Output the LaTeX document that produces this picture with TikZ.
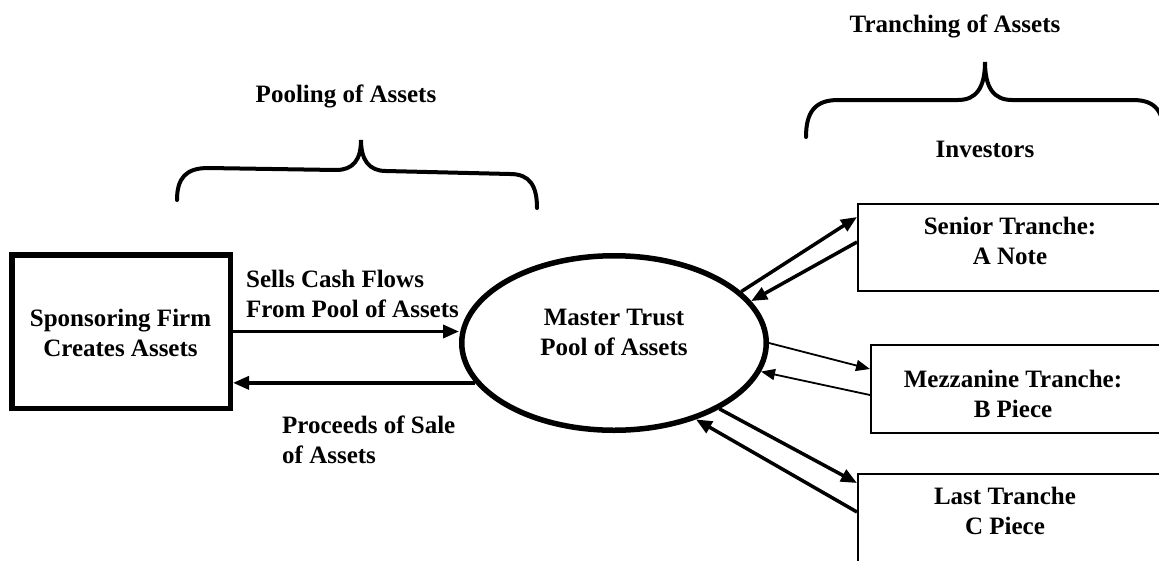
\documentclass[tikz,border=0pt]{standalone}
\usepackage{fontspec}
\setmainfont{Liberation Serif}
\usetikzlibrary{shapes.geometric,arrows.meta,calc}
\newcommand{\twoline}[3][c]{\begin{tabular}[t]{@{}#1@{}}#2\\#3\end{tabular}}
\begin{document}
\begin{tikzpicture}[x=1pt,y=-1pt,
  lbl/.style={font=\fontsize{25}{30}\selectfont\bfseries, inner sep=0pt, anchor=base},
  thickbox/.style={draw, line width=5.5pt, inner sep=0pt},
  trbox/.style={draw, line width=2pt, inner sep=0pt},
  brace/.style={line width=4pt, line cap=round},
  thickarr/.style={line width=3.5pt, -{Triangle[length=16pt,width=13pt]}},
  thinarr/.style={line width=1.8pt, -{Triangle[length=14pt,width=11pt]}}]
\useasboundingbox (0,0) rectangle (1159,560);
\clip (0,0) rectangle (1159,560);

% main shapes
\node[thickbox, minimum width=218.5pt, minimum height=153.5pt] (sf) at (121,331.5) {};
\node[thickbox, ellipse, minimum width=304.5pt, minimum height=174.5pt] (mt) at (614,343) {};
\node[trbox, minimum width=312pt, minimum height=87pt] (sn) at (1014,247.5) {};
\node[trbox, minimum width=299pt, minimum height=88pt] (mn) at (1020.5,389) {};
\node[trbox, minimum width=312pt, minimum height=96pt] (ln) at (1014,522) {};

% texts
\node[lbl] (tsf) at (120.5,326) {\twoline{Sponsoring Firm}{Creates Assets}};
\node[lbl] (tmt) at (614,325) {\twoline{Master Trust}{Pool of Assets}};
\node[lbl] (tsn) at (1010,234) {\twoline{Senior Tranche:}{A Note}};
\node[lbl] (tmn) at (1013,387) {\twoline{Mezzanine Tranche:}{B Piece}};
\node[lbl] (tln) at (1005,504) {\twoline{Last Tranche}{C Piece}};
\node[lbl, anchor=base west] (tsell) at (246,287) {\twoline[l]{Sells Cash Flows}{From Pool of Assets}};
\node[lbl, anchor=base west] (tproc) at (282,433) {\twoline[l]{Proceeds of Sale}{of Assets}};
\node[lbl] (tpool) at (346,102) {Pooling of Assets};
\node[lbl] (ttr) at (955,32) {Tranching of Assets};
\node[lbl] (tinv) at (985,157) {Investors};

% braces
\draw[brace] (177,200) .. controls (177,178) and (186,168) .. (208,168)
  -- (336,170) .. controls (353,170) and (361,160) .. (361,140)
  .. controls (361,160) and (369,171) .. (386,171)
  -- (510,174) .. controls (530,174) and (537,186) .. (537,208);
\draw[brace] (806,137) .. controls (806,112) and (815,100) .. (838,100)
  -- (958,100) .. controls (976,100) and (985,88) .. (985,62)
  .. controls (985,88) and (994,100) .. (1012,100)
  -- (1133,100) .. controls (1156,100) and (1164,112) .. (1164,137);

% connectors
\draw[thickarr] (sf.east) -- (sf.east -| mt.west);
\draw[thickarr] (mt.196) -- (sf.east |- mt.196);
\draw[thickarr] (mt.22) -- ($(sn.north west)+(0,14)$);
\draw[thickarr] ($(sn.north west)+(0,39)$) -- (mt.17);
\draw[thinarr] (mt.0) -- ($(mn.north west)+(0,25)$);
\draw[thinarr] ($(mn.north west)+(0,51)$) -- (mt.-11);
\draw[thickarr] (mt.-32) -- ($(ln.north west)+(0,10)$);
\draw[thickarr] ($(ln.north west)+(0,39)$) -- (mt.-43);
\end{tikzpicture}
\end{document}
